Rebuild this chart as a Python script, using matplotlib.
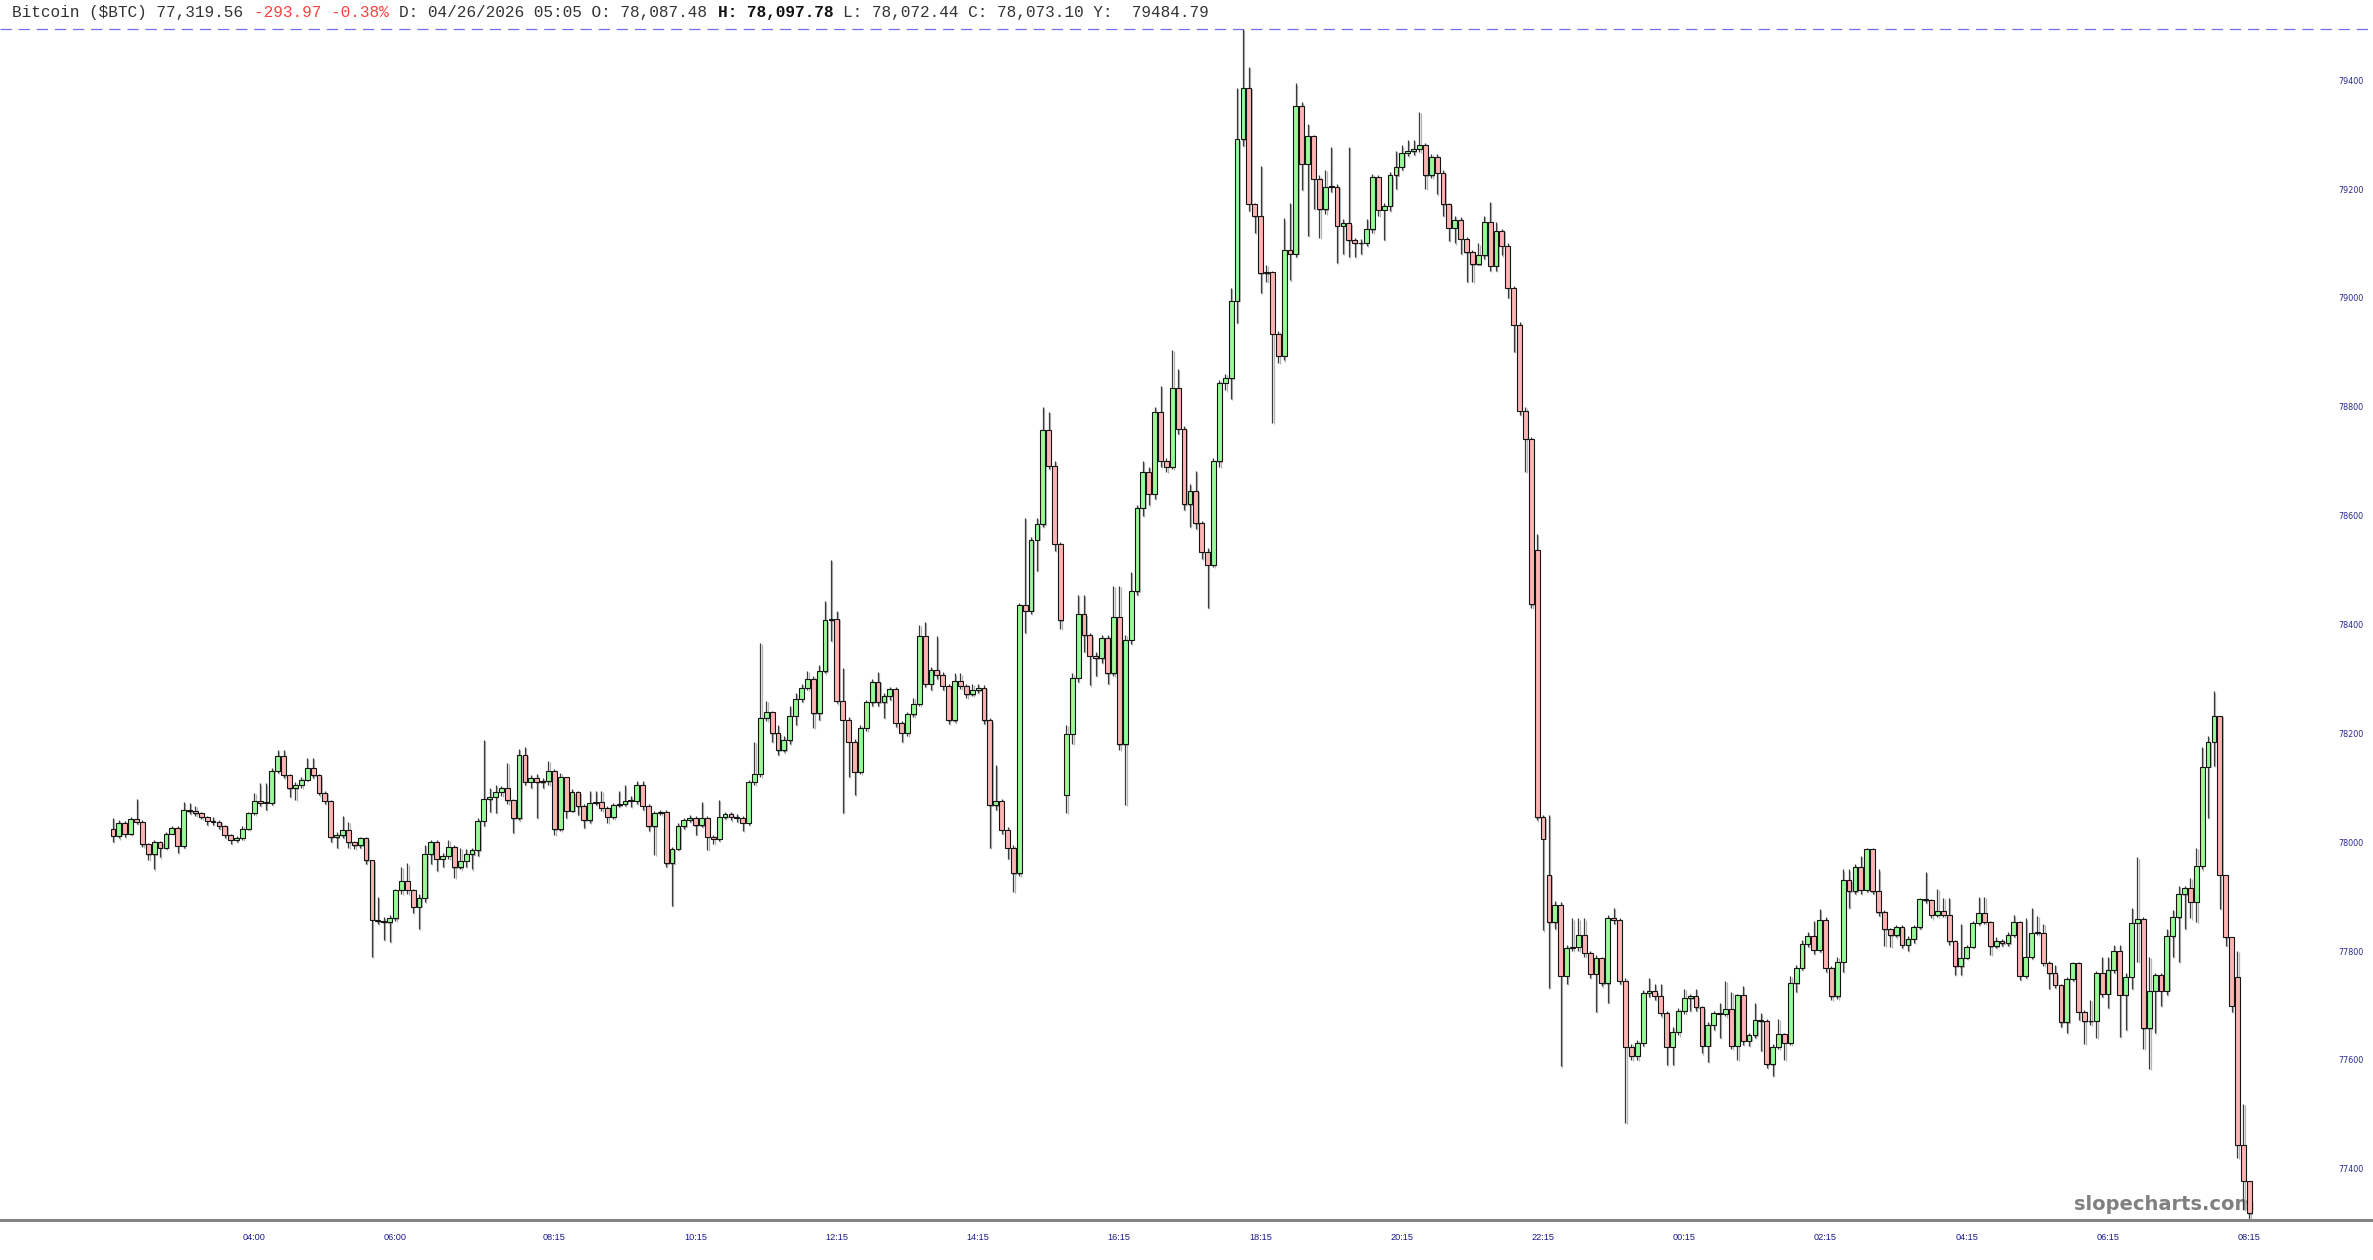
import numpy as np
import matplotlib
matplotlib.use("Agg")
from matplotlib import pyplot as plt
from matplotlib import font_manager

# 5-minute Bitcoin candles (index 0 = 02:00, last = 08:15 next day)
closes = [
    78012, 78036, 78016, 78042, 78038, 77996, 77978, 78000, 77990, 78016,
    78027, 77993, 78060, 78057, 78053, 78047, 78039, 78037, 78030, 78014,
    78005, 78008, 78025, 78054, 78076, 78072, 78072, 78131, 78158, 78123,
    78099, 78106, 78115, 78136, 78123, 78091, 78076, 78009, 78013, 78022,
    78000, 77994, 78007, 77967, 77858, 77855, 77853, 77860, 77912, 77928,
    77913, 77881, 77898, 77978, 78000, 77969, 77975, 77992, 77954, 77966,
    77978, 77985, 78039, 78079, 78083, 78093, 78099, 78077, 78044, 78161,
    78111, 78118, 78110, 78112, 78130, 78024, 78120, 78058, 78092, 78066,
    78040, 78072, 78074, 78063, 78047, 78068, 78071, 78076, 78076, 78106,
    78067, 78029, 78054, 78056, 77961, 77988, 78029, 78041, 78045, 78031,
    78045, 78010, 78006, 78046, 78051, 78047, 78045, 78036, 78111, 78126,
    78229, 78239, 78200, 78169, 78187, 78232, 78264, 78284, 78300, 78237,
    78314, 78408, 78411, 78260, 78225, 78184, 78129, 78210, 78257, 78295,
    78257, 78269, 78282, 78219, 78201, 78235, 78254, 78378, 78291, 78317,
    78308, 78287, 78224, 78297, 78287, 78272, 78279, 78284, 78224, 78068,
    78076, 78023, 77990, 77943, 78435, 78425, 78556, 78584, 78757, 78692,
    78548, 78408, 78199, 78302, 78419, 78380, 78343, 78338, 78376, 78310,
    78413, 78180, 78372, 78461, 78614, 78680, 78640, 78790, 78701, 78690,
    78835, 78759, 78621, 78645, 78586, 78534, 78510, 78700, 78844, 78852,
    78995, 79291, 79386, 79173, 79150, 79045, 79048, 78934, 78894, 79088,
    79081, 79352, 79246, 79298, 79219, 79163, 79204, 79204, 79132, 79137,
    79106, 79100, 79101, 79126, 79222, 79162, 79169, 79225, 79241, 79266,
    79269, 79274, 79281, 79225, 79259, 79230, 79172, 79129, 79144, 79109,
    79084, 79062, 79078, 79140, 79059, 79123, 79096, 79018, 78950, 78793,
    78741, 78437, 78046, 78006, 77853, 77885, 77754, 77806, 77808, 77830,
    77797, 77758, 77787, 77741, 77861, 77857, 77745, 77624, 77608, 77631,
    77723, 77726, 77718, 77687, 77624, 77652, 77690, 77713, 77717, 77697,
    77626, 77664, 77686, 77685, 77694, 77626, 77719, 77635, 77645, 77674,
    77671, 77592, 77624, 77647, 77631, 77741, 77769, 77813, 77828, 77802,
    77858, 77769, 77717, 77780, 77930, 77910, 77955, 77912, 77987, 77910,
    77871, 77840, 77829, 77844, 77812, 77823, 77844, 77896, 77893, 77867,
    77873, 77867, 77818, 77772, 77788, 77808, 77852, 77870, 77854, 77809,
    77819, 77814, 77830, 77854, 77754, 77789, 77834, 77834, 77778, 77759,
    77738, 77669, 77749, 77778, 77688, 77671, 77672, 77760, 77722, 77766,
    77800, 77720, 77753, 77852, 77859, 77658, 77727, 77756, 77727, 77827,
    77862, 77904, 77916, 77891, 77957, 78139, 78184, 78232, 77940, 77825,
    77700, 77444, 77378, 77318,
]

highs = [
    78044, 78041, 78039, 78047, 78080, 78040, 77998, 78004, 78003, 78019,
    78030, 78030, 78074, 78072, 78066, 78056, 78049, 78046, 78040, 78032,
    78016, 78012, 78030, 78056, 78090, 78108, 78108, 78136, 78170, 78169,
    78126, 78110, 78120, 78154, 78155, 78126, 78094, 78078, 78018, 78048,
    78038, 78003, 78010, 78010, 77968, 77900, 77862, 77866, 77915, 77955,
    77961, 77915, 77905, 77995, 78005, 78005, 77980, 78005, 77995, 77990,
    77987, 77990, 78045, 78188, 78099, 78105, 78103, 78146, 78080, 78172,
    78175, 78124, 78125, 78118, 78150, 78135, 78128, 78095, 78098, 78095,
    78070, 78094, 78094, 78094, 78066, 78072, 78094, 78105, 78085, 78112,
    78112, 78070, 78058, 78060, 78060, 77992, 78035, 78045, 78050, 78048,
    78074, 78048, 78014, 78078, 78055, 78056, 78052, 78048, 78115, 78185,
    78366, 78260, 78242, 78215, 78195, 78250, 78275, 78290, 78315, 78305,
    78325, 78443, 78518, 78425, 78321, 78230, 78190, 78215, 78262, 78300,
    78313, 78275, 78285, 78285, 78222, 78240, 78265, 78399, 78405, 78322,
    78378, 78312, 78290, 78310, 78310, 78290, 78290, 78290, 78288, 78228,
    78142, 78080, 78028, 77995, 78440, 78596, 78560, 78596, 78800, 78790,
    78700, 78552, 78215, 78310, 78455, 78455, 78385, 78350, 78381, 78380,
    78471, 78471, 78380, 78496, 78620, 78700, 78690, 78800, 78838, 78705,
    78905, 78869, 78765, 78658, 78682, 78590, 78540, 78705, 78850, 78860,
    79018, 79386, 79494, 79425, 79175, 79243, 79060, 79050, 78940, 79146,
    79174, 79394, 79360, 79320, 79300, 79225, 79235, 79277, 79210, 79145,
    79277, 79110, 79108, 79145, 79228, 79225, 79175, 79232, 79270, 79280,
    79290, 79290, 79342, 79285, 79265, 79265, 79235, 79175, 79150, 79148,
    79112, 79088, 79100, 79150, 79177, 79140, 79126, 79100, 79022, 78955,
    78800, 78745, 78567, 78050, 78050, 77892, 77890, 77812, 77860, 77860,
    77860, 77800, 77792, 77790, 77866, 77880, 77860, 77750, 77630, 77636,
    77728, 77750, 77740, 77740, 77690, 77660, 77695, 77730, 77722, 77730,
    77700, 77670, 77690, 77705, 77745, 77725, 77722, 77736, 77650, 77704,
    77686, 77675, 77630, 77675, 77650, 77755, 77775, 77820, 77835, 77855,
    77878, 77862, 77772, 77790, 77950, 77950, 77960, 77975, 77990, 77990,
    77950, 77875, 77842, 77848, 77848, 77828, 77848, 77898, 77946, 77895,
    77915, 77898, 77898, 77820, 77850, 77812, 77855, 77900, 77900, 77856,
    77825, 77822, 77835, 77866, 77856, 77860, 77880, 77864, 77850, 77782,
    77775, 77740, 77752, 77780, 77780, 77692, 77710, 77764, 77790, 77790,
    77812, 77812, 77760, 77880, 77972, 77862, 77790, 77760, 77760, 77840,
    77875, 77920, 77920, 77935, 77990, 78175, 78195, 78277, 78232, 77940,
    77825, 77800, 77520, 77378,
]

lows = [
    78001, 78007, 78010, 78014, 78034, 77991, 77967, 77950, 77972, 77988,
    78015, 77981, 77990, 78052, 78048, 78042, 78031, 78032, 78025, 78008,
    77996, 78000, 78004, 78022, 78050, 78066, 78060, 78068, 78128, 78118,
    78083, 78077, 78100, 78112, 78118, 78086, 78070, 78000, 77990, 78008,
    77990, 77988, 77990, 77960, 77790, 77850, 77820, 77817, 77855, 77905,
    77905, 77870, 77840, 77890, 77960, 77948, 77955, 77970, 77935, 77950,
    77955, 77950, 77975, 78030, 78055, 78053, 78085, 78070, 78017, 78040,
    78105, 78100, 78045, 78100, 78105, 78014, 78020, 78045, 78055, 78050,
    78026, 78035, 78068, 78058, 78036, 78042, 78064, 78066, 78065, 78070,
    78060, 78020, 77976, 78050, 77955, 77883, 77985, 78025, 78038, 78013,
    78028, 77985, 77996, 78003, 78043, 78040, 78038, 78020, 78032, 78105,
    78120, 78222, 78185, 78160, 78165, 78180, 78215, 78258, 78280, 78210,
    78225, 78310, 78370, 78255, 78053, 78120, 78087, 78125, 78205, 78250,
    78250, 78229, 78262, 78212, 78185, 78195, 78230, 78250, 78285, 78280,
    78300, 78280, 78218, 78220, 78282, 78265, 78268, 78275, 78218, 77990,
    78060, 78015, 77970, 77909, 77938, 78385, 78420, 78498, 78580, 78685,
    78535, 78391, 78053, 78180, 78295, 78350, 78288, 78305, 78330, 78290,
    78305, 78170, 78069, 78365, 78455, 78600, 78620, 78630, 78690, 78680,
    78685, 78750, 78610, 78579, 78575, 78520, 78430, 78505, 78690, 78830,
    78814, 78954, 79279, 79160, 79120, 79009, 79030, 78771, 78880, 78885,
    79032, 79075, 79199, 79113, 79163, 79110, 79155, 79195, 79065, 79080,
    79075, 79075, 79080, 79095, 79120, 79150, 79107, 79160, 79200, 79235,
    79260, 79262, 79268, 79200, 79220, 79190, 79150, 79105, 79100, 79080,
    79030, 79030, 79060, 79072, 79050, 79050, 79078, 79000, 78900, 78785,
    78680, 78430, 78040, 77838, 77733, 77840, 77588, 77740, 77800, 77800,
    77790, 77750, 77688, 77735, 77705, 77850, 77740, 77484, 77600, 77600,
    77625, 77715, 77710, 77680, 77590, 77590, 77645, 77685, 77690, 77690,
    77612, 77597, 77655, 77640, 77680, 77620, 77600, 77628, 77625, 77640,
    77617, 77585, 77570, 77620, 77600, 77628, 77725, 77765, 77808, 77795,
    77798, 77762, 77710, 77712, 77762, 77880, 77905, 77905, 77908, 77905,
    77865, 77810, 77808, 77825, 77805, 77800, 77815, 77840, 77888, 77860,
    77862, 77862, 77812, 77757, 77757, 77785, 77805, 77848, 77850, 77793,
    77805, 77810, 77810, 77826, 77747, 77750, 77785, 77830, 77772, 77730,
    77732, 77660, 77650, 77745, 77673, 77630, 77665, 77640, 77715, 77695,
    77760, 77642, 77655, 77730, 77780, 77620, 77583, 77650, 77700, 77720,
    77790, 77780, 77840, 77860, 77853, 77950, 78045, 78140, 77878, 77810,
    77688, 77420, 77325, 77306,
]

first_open = 78025
# bars that opened away from the previous close
open_gaps = {162: 78087, 242: 78536, 244: 77940, 361: 77753}

tick_idx = [24, 48, 75, 99, 123, 147, 171, 195, 219, 243, 267, 291, 315, 339, 363]
tick_labels = ["04:00", "06:00", "08:15", "10:15", "12:15", "14:15", "16:15",
               "18:15", "20:15", "22:15", "00:15", "02:15", "04:15", "06:15", "08:15"]
price_ticks = [77400, 77600, 77800, 78000, 78200, 78400, 78600, 78800, 79000, 79200, 79400]

W, H, DPI = 2373, 1260, 100

c = np.array(closes, dtype=float)
o = np.concatenate([[first_open], c[:-1]])
for k, v in open_gaps.items():
    o[k] = v
hi = np.maximum(np.array(highs, dtype=float), np.maximum(o, c))
lo = np.minimum(np.array(lows, dtype=float), np.minimum(o, c))
x = np.arange(len(c))

fig = plt.figure(figsize=(W / DPI, H / DPI), dpi=DPI)
fig.patch.set_facecolor("white")

# axes spans the whole width; top at the dashed line, bottom at the grey rule
ax = fig.add_axes([0, (H - 1220) / H, 1, (1220 - 29) / H])
pitch, x0 = 5.885, 113
xmin = -x0 / pitch
ax.set_xlim(xmin, xmin + W / pitch)
ax.set_ylim(lo.min(), hi.max())

up = c >= o
body_lo = np.minimum(o, c)
body_h = np.maximum(np.abs(c - o), 1.5)
fill = np.where(up, "#98fb98", "#ffb4b4")

# shadows
ax.vlines(x + 0.22, lo - 2, hi - 2, color="#b5b5b5", lw=0.9, zorder=1)
ax.bar(x + 0.22, body_h, 0.82, bottom=body_lo - 2.5, color="#9a9a9a", alpha=0.7, zorder=1.5)
# wicks + bodies
ax.vlines(x, lo, hi, color="#3a3a3a", lw=0.9, zorder=2)
ax.bar(x, body_h, 0.82, bottom=body_lo, color=fill, edgecolor="#141414", linewidth=0.8, zorder=3)

# dashed line at the top (session high)
ax.axhline(hi.max(), color="#7070ee", lw=0.9, ls=(0, (9, 5.5)), clip_on=False, zorder=4)

for s in ["top", "left", "right"]:
    ax.spines[s].set_visible(False)
ax.spines["bottom"].set_color("#858585")
ax.spines["bottom"].set_linewidth(2.2)

available = {f.name for f in font_manager.fontManager.ttflist}
xfont = "Liberation Sans Narrow" if "Liberation Sans Narrow" in available else "Liberation Sans"
xsize = 8 if xfont == "Liberation Sans Narrow" else 6.6

ax.set_xticks(tick_idx)
ax.set_xticklabels(tick_labels, family=xfont, fontsize=xsize, color="#1a1a8a")
ax.tick_params(axis="x", length=0, pad=9)

ax.yaxis.tick_right()
ax.set_yticks(price_ticks)
ax.set_yticklabels([str(p) for p in price_ticks], family="DejaVu Sans", fontsize=5.8, color="#2a2a90")
ax.tick_params(axis="y", length=0, pad=-25.2)

# watermark under the candles
ax.text(2255 / W, 1 - 1210 / H, "slopecharts.com", transform=fig.transFigure,
        ha="right", va="baseline", fontsize=14, weight="bold", color="#808080",
        family="DejaVu Sans", zorder=0.5)

# header line, monospaced
hsize = 11.6
cw = 0.6 * hsize * DPI / 72
segments = [
    ("Bitcoin ($BTC) 77,319.56 ", "#333333", "normal"),
    ("-293.97 -0.38% ", "#ff4040", "normal"),
    ("D: 04/26/2026 05:05 O: 78,087.48 ", "#333333", "normal"),
    ("H: 78,097.78 ", "#111111", "bold"),
    ("L: 78,072.44 C: 78,073.10 Y:  79484.79", "#333333", "normal"),
]
n = 0
for txt, col, wt in segments:
    fig.text((12 + n * cw) / W, 1 - 12.5 / H, txt, family="Liberation Mono",
             fontsize=hsize, color=col, weight=wt, va="center", ha="left")
    n += len(txt)

plt.savefig("out.png", dpi=DPI, facecolor="white")
